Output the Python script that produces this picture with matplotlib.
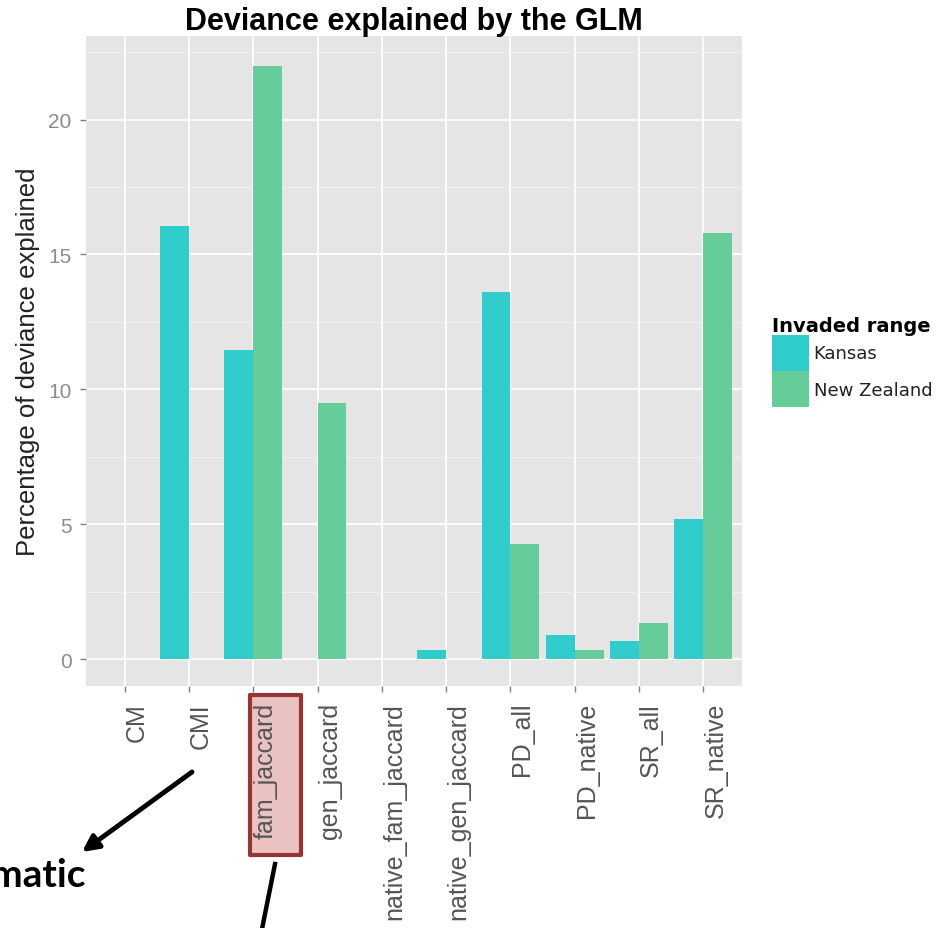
import matplotlib
matplotlib.use('Agg')
import numpy as np
import matplotlib.pyplot as plt
from matplotlib.patches import Rectangle, FancyArrowPatch
from matplotlib.lines import Line2D

# --- DATA ---
categories = ['CM', 'CMI', 'fam_jaccard', 'gen_jaccard', 'native_fam_jaccard',
              'native_gen_jaccard', 'PD_all', 'PD_native', 'SR_all', 'SR_native']
kansas = [0, 16.05, 11.45, 0, 0, 0.33, 13.62, 0.88, 0.65, 5.2]
new_zealand = [0, 0, 22.0, 9.5, 0, 0, 4.25, 0.32, 1.35, 15.8]
series_names = ['Kansas', 'New Zealand']
series_colors = ['#30CBCB', '#66CC99']
y_major = [0, 5, 10, 15, 20]
y_minor = [2.5, 7.5, 12.5, 17.5, 22.5]

W, H = 953, 929


def fx(x):
    return x / W


def fy(y):
    return 1 - y / H


plt.rcParams['font.family'] = ['Liberation Sans', 'DejaVu Sans']

fig = plt.figure(figsize=(W / 100, H / 100), dpi=100)
ax = fig.add_axes([fx(86), fy(687), (742 - 86) / W, (687 - 37) / H])
ax.set_facecolor('#E5E5E5')
for s in ax.spines.values():
    s.set_visible(False)

# --- BARS (dodged) ---
x = np.arange(len(categories))
bw = 0.45
b1 = ax.bar(x - bw / 2, kansas, width=bw, color=series_colors[0], label=series_names[0], zorder=3)
b2 = ax.bar(x + bw / 2, new_zealand, width=bw, color=series_colors[1], label=series_names[1], zorder=3)

ax.set_xlim(-0.6, len(categories) - 0.4)
ax.set_ylim(-1.0, 23.1)
ax.set_yticks(y_major)
ax.set_yticks(y_minor, minor=True)
ax.set_xticks(x)
ax.set_xticklabels(categories, rotation=90, ha='left', va='top')

ax.set_axisbelow(True)
ax.grid(True, which='major', color='white', lw=1.3)
ax.yaxis.grid(True, which='minor', color='#F2F2F2', lw=0.7)

ax.tick_params(axis='both', which='major', length=4.5, width=1.0, color='#7F7F7F')
ax.tick_params(axis='y', which='minor', length=0)
ax.tick_params(axis='y', labelsize=15, labelcolor='#8C8C8C', pad=6)
ax.tick_params(axis='x', labelsize=18, labelcolor='#555555', pad=7)

ax.set_ylabel('Percentage of deviance explained', fontsize=18.5, color='#222222')
ax.yaxis.set_label_coords(-0.07, 0.5)
ax.set_title('Deviance explained by the GLM', fontsize=22, fontweight='bold', pad=3.5)

# --- LEGEND ---
leg = ax.legend(handles=[b1, b2], title='Invaded range', loc='upper left',
                bbox_to_anchor=(fx(772), fy(317)), bbox_transform=fig.transFigure,
                frameon=False, borderpad=0, borderaxespad=0,
                handlelength=37 / 18, handleheight=2.7, handletextpad=0.25,
                labelspacing=0, alignment='left',
                prop={'family': 'DejaVu Sans', 'size': 13},
                title_fontproperties={'family': 'DejaVu Sans', 'size': 14, 'weight': 'bold'})
for t in leg.get_texts():
    t.set_color('#222222')

# --- ANNOTATIONS ---
box = Rectangle((fx(250), fy(856)), (301 - 250) / W, (856 - 696) / H,
                transform=fig.transFigure, facecolor='#EBC2C2', edgecolor='#943634',
                lw=3, joinstyle='round', zorder=-1)
fig.add_artist(box)

fig.add_artist(Line2D([fx(275), fx(260)], [fy(865), fy(940)], transform=fig.transFigure,
                      color='black', lw=3.2))

arrow = FancyArrowPatch((fx(192), fy(773)), (fx(82), fy(853)), transform=fig.transFigure,
                        arrowstyle='-|>', mutation_scale=24, lw=3.5, color='black',
                        shrinkA=0, shrinkB=0)
fig.add_artist(arrow)

fig.text(fx(86), fy(887), 'Climatic', ha='right', va='baseline', fontsize=28,
         fontweight='bold', family='Lato', color='black')

fig.savefig('out.png', dpi=100)
